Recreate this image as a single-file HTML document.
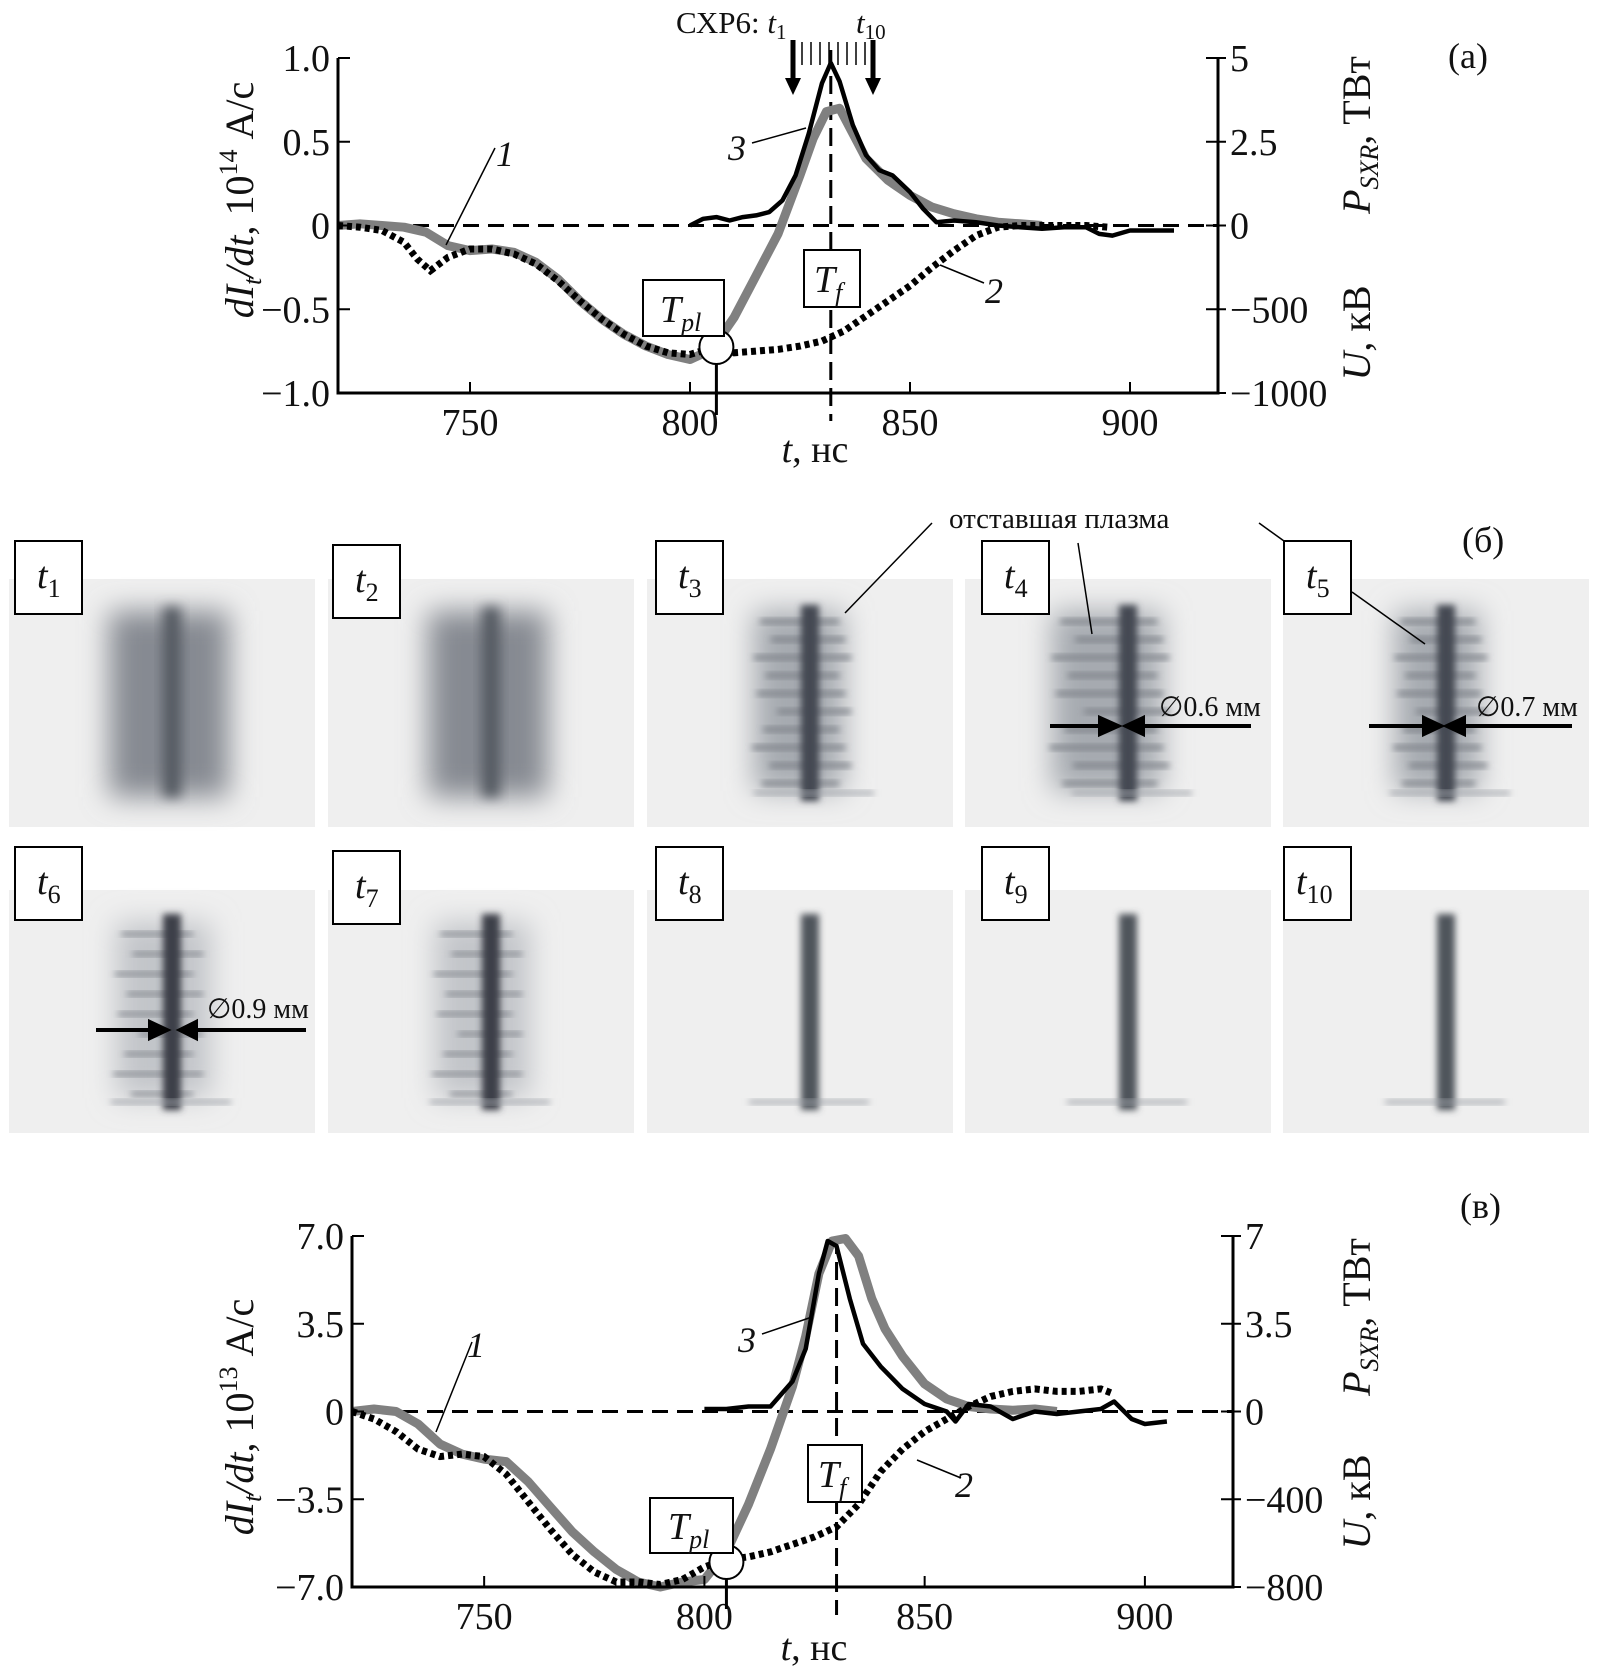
<!DOCTYPE html>
<html><head><meta charset="utf-8"><style>
html,body{margin:0;padding:0;background:#fff}
svg{display:block}
text{font-family:"Liberation Serif",serif;fill:#111}
</style></head><body>
<svg id="fig" width="1597" height="1668" viewBox="0 0 1597 1668" xmlns="http://www.w3.org/2000/svg">
<defs>
<filter id="b6" x="-50%" y="-50%" width="200%" height="200%"><feGaussianBlur stdDeviation="6"/></filter>
<filter id="b3" x="-50%" y="-50%" width="200%" height="200%"><feGaussianBlur stdDeviation="3.5"/></filter>
<filter id="b12" x="-50%" y="-50%" width="200%" height="200%"><feGaussianBlur stdDeviation="14"/></filter>
</defs>
<g id="panels"></g>
<g id="chartA"></g>
<g id="chartB"></g>
<g id="annot"></g>
</svg>
<script>
// ---------- chart (a) data ----------
const tA1=[720,725,730,735,740,745,750,755,760,765,770,775,780,785,790,795,800,805,810,815,820,825,828,831,834,837,840,845,850,855,860,865,870,875,880];
const vA1=[0,0.01,0,-0.01,-0.04,-0.12,-0.15,-0.14,-0.16,-0.22,-0.32,-0.45,-0.56,-0.65,-0.72,-0.77,-0.8,-0.74,-0.55,-0.3,-0.05,0.3,0.52,0.68,0.7,0.55,0.4,0.27,0.18,0.11,0.07,0.04,0.02,0.01,0];
const tA2=[720,725,730,735,738,741,745,750,755,760,765,770,775,780,785,790,795,800,805,810,815,820,825,830,835,840,845,850,855,860,865,870,875,880,890,895];
const vA2=[0,-0.01,-0.03,-0.1,-0.2,-0.27,-0.19,-0.14,-0.14,-0.17,-0.23,-0.33,-0.45,-0.56,-0.65,-0.72,-0.76,-0.77,-0.73,-0.76,-0.75,-0.74,-0.72,-0.69,-0.63,-0.54,-0.45,-0.36,-0.25,-0.15,-0.06,-0.01,0,0,0,-0.01];
const tA3=[800,803,806,809,812,815,818,821,824,827,830,832,834,837,840,843,846,850,853,856,860,865,870,875,880,885,890,893,896,900,905,910];
const vA3=[0,0.04,0.05,0.03,0.05,0.06,0.08,0.15,0.3,0.55,0.85,0.97,0.86,0.6,0.42,0.33,0.3,0.2,0.1,0.02,0.03,0.02,0,-0.01,-0.02,-0.01,-0.01,-0.05,-0.06,-0.03,-0.03,-0.03];
const ticksXA=[750,800,850,900];
const ticksYA=[1,0.5,0,-0.5,-1];
const labelsLeftA=["1.0","0.5","0","\u22120.5","\u22121.0"];
const labelsRightA=["5","2.5","0","\u2212500","\u22121000"];
// ---------- chart (v) data ----------
const tB1=[720,725,730,735,740,745,750,755,760,765,770,775,780,785,790,795,800,805,810,815,820,823,826,829,832,835,838,841,845,850,855,860,865,870,875,880];
const vB1=[0,0.1,0,-0.5,-1.3,-1.7,-1.9,-2.0,-2.8,-3.8,-4.8,-5.6,-6.3,-6.8,-7.0,-6.8,-6.7,-5.6,-3.7,-1.5,1.0,3.0,5.5,6.8,6.9,6.2,4.5,3.3,2.2,1.1,0.5,0.2,0.1,0.05,0.1,0];
const tB2=[720,725,730,735,740,745,750,755,760,765,770,775,780,785,790,795,800,805,810,815,820,825,830,835,840,845,850,855,860,865,870,875,880,885,890,893];
const vB2=[0,-0.3,-0.8,-1.5,-1.8,-1.7,-1.8,-2.5,-3.6,-4.7,-5.7,-6.4,-6.8,-6.8,-6.9,-6.7,-6.2,-5.9,-5.8,-5.6,-5.3,-5.0,-4.6,-3.7,-2.4,-1.5,-0.8,-0.3,0.2,0.6,0.8,0.9,0.8,0.8,0.9,0.7];
const tB3=[800,805,810,815,820,823,826,828,830,833,836,840,845,850,855,857,860,865,870,875,880,885,890,893,897,900,905];
const vB3=[0.1,0.1,0.2,0.2,1.2,2.5,5.5,6.8,6.6,4.5,2.7,1.8,0.9,0.3,0.0,-0.4,0.3,0.2,-0.3,0.0,-0.1,0.0,0.1,0.4,-0.3,-0.5,-0.4];
const ticksXB=[750,800,850,900];
const ticksYB=[7,3.5,0,-3.5,-7];
const labelsLeftB=["7.0","3.5","0","\u22123.5","\u22127.0"];
const labelsRightB=["7","3.5","0","\u2212400","\u2212800"];

const NS="http://www.w3.org/2000/svg";
function mk(tag,attrs,parent){const e=document.createElementNS(NS,tag);for(const k in attrs)e.setAttribute(k,attrs[k]);parent.appendChild(e);return e;}

function drawChart(g,c){
  const xs=t=>c.x0+(t-720)/(200)*(c.x1-c.x0);
  const ys=v=>c.y0+(c.vmax-v)/(2*c.vmax)*(c.y1-c.y0);
  const y0=ys(0);
  let z=mk('line',{x1:c.x0,x2:c.x1,y1:y0,y2:y0,stroke:'#000','stroke-width':3,'stroke-dasharray':'16 9'},g);
  
  
  let tf=mk('line',{x1:xs(c.tf),x2:xs(c.tf),y1:c.tfTop,y2:c.y1+28,stroke:'#000','stroke-width':3,'stroke-dasharray':'18 8'},g);
  
  
  const path=(ts,vs)=>ts.map((t,i)=>(i?'L':'M')+xs(t).toFixed(1)+','+ys(vs[i]).toFixed(1)).join(' ');
  let s1=mk('path',{d:path(c.t1,c.v1),fill:'none',stroke:'#808080','stroke-width':9,'stroke-linejoin':'round'},g);
  
  
  let s2=mk('path',{d:path(c.t2,c.v2),fill:'none',stroke:'#000','stroke-width':7,'stroke-dasharray':'5 4'},g);
  
  
  let s3=mk('path',{d:path(c.t3,c.v3),fill:'none',stroke:'#000','stroke-width':4.5,'stroke-linejoin':'round'},g);
  
  
  let ax=mk('path',{d:`M${c.x0},${c.y0} L${c.x0},${c.y1} L${c.x1},${c.y1} L${c.x1},${c.y0}`,fill:'none',stroke:'#000','stroke-width':3},g);
  
  
  c.ticksX.forEach(t=>{
    let l=mk('line',{x1:xs(t),x2:xs(t),y1:c.y1,y2:c.y1-11,stroke:'#000','stroke-width':2},g);
    
    
    let tx=mk('text',{x:xs(t),y:c.y1+42,'text-anchor':'middle','font-size':38},g);
    tx.textContent=t;
    
    
  });
  c.ticksY.forEach((v,i)=>{
    let l=mk('line',{x1:c.x0,x2:c.x0+12,y1:ys(v),y2:ys(v),stroke:'#000','stroke-width':2},g);
    
    
    let r=mk('line',{x1:c.x1-12,x2:c.x1+8,y1:ys(v),y2:ys(v),stroke:'#000','stroke-width':2},g);
    
    
    let tl=mk('text',{x:c.x0-8,y:ys(v)+13,'text-anchor':'end','font-size':38},g);
    tl.textContent=c.labL[i];
    
    
    let tr=mk('text',{x:c.x1+12,y:ys(v)+13,'text-anchor':'start','font-size':38},g);
    tr.textContent=c.labR[i];
    
    
  });
  let vl=mk('line',{x1:xs(c.tpl),x2:xs(c.tpl),y1:c.tplY,y2:c.y1+22,stroke:'#000','stroke-width':3},g);
  
  
  let ci=mk('circle',{cx:xs(c.tpl),cy:c.tplY,r:17,fill:'#fff',stroke:'#000','stroke-width':2},g);
  
  
}

drawChart(document.getElementById('chartA'),{x0:338,x1:1218,y0:58,y1:393,vmax:1,tf:832,tfTop:50,tpl:806,tplY:347,
  t1:tA1,v1:vA1,t2:tA2,v2:vA2,t3:tA3,v3:vA3,ticksX:ticksXA,ticksY:ticksYA,labL:labelsLeftA,labR:labelsRightA});
drawChart(document.getElementById('chartB'),{x0:352,x1:1233,y0:1236,y1:1587,vmax:7,tf:830,tfTop:1236,tpl:805,tplY:1562,
  t1:tB1,v1:vB1,t2:tB2,v2:vB2,t3:tB3,v3:vB3,ticksX:ticksXB,ticksY:ticksYB,labL:labelsLeftB,labR:labelsRightB});

// ---------- framing image panels ----------
const panelsG=document.getElementById('panels');
const colX=[9,328,647,965,1283];
const rowY=[579,890];
const streakLen=[62,48,70,55,66,40,58,72,50,60];
function panel(i){
  const row=i<5?0:1, col=i%5;
  const px=colX[col], py=rowY[row], w=306, h=i<5?248:243;
  const g=mk('g',{transform:`translate(${px},${py})`},panelsG);
  
  
  mk('rect',{x:0,y:0,width:w,height:h,fill:'#efefef'},g);
  const cx=162;
  if(i<2){
    mk('rect',{x:cx-62,y:32,width:120,height:186,fill:'#868a92',filter:'url(#b12)'},g);
    mk('rect',{x:cx-8,y:28,width:18,height:190,fill:'#555a62',filter:'url(#b6)'},g);
  } else if(i<5){
    const hw=[0,0,55,75,50][i];
    mk('rect',{x:cx-hw,y:32,width:hw+35,height:180,fill:'#a6aab0',filter:'url(#b12)'},g);
    for(let k=0;k<10;k++){const L=streakLen[k]*hw/70;mk('rect',{x:cx-L,y:40+k*18,width:L+30+(k%3)*6,height:5,fill:'#7d8188',filter:'url(#b3)'},g);}
    mk('rect',{x:cx-8,y:26,width:18,height:196,fill:'#454a52',filter:'url(#b3)'},g);
    mk('rect',{x:cx-55,y:212,width:120,height:4,fill:'#a0a4aa',filter:'url(#b3)'},g);
  } else {
    const feather=i<7;
    if(feather){
      mk('rect',{x:cx-55,y:32,width:95,height:176,fill:'#c2c5c9',filter:'url(#b12)'},g);
      for(let k=0;k<9;k++){const L=streakLen[k]*0.8;mk('rect',{x:cx-L,y:42+k*20,width:L+22+(k%2)*10,height:4,fill:'#7d8188',filter:'url(#b3)'},g);}
    }
    mk('rect',{x:cx-8,y:24,width:18,height:196,fill:feather?'#3c4148':'#50555c',filter:'url(#b3)'},g);
    mk('rect',{x:cx-60,y:210,width:120,height:4,fill:'#a0a4aa',filter:'url(#b3)'},g);
  }
}
for(let i=0;i<10;i++)panel(i);
const boxes=[[15,541],[333,545],[656,541],[982,541],[1284,541],[15,847],[333,851],[656,847],[982,847],[1284,847]];
boxes.forEach((b,i)=>{
  const r=mk('rect',{x:b[0],y:b[1],width:67,height:73,fill:'#fff',stroke:'#000','stroke-width':2},panelsG);
  
  
  const t=mk('text',{x:b[0]+(i==9?12:22),y:b[1]+47,'font-size':38},panelsG);
  t.innerHTML='<tspan font-style="italic">t</tspan><tspan font-size="26" dy="9">'+(i+1)+'</tspan>';
  
  
});
</script>
<script>
const an=document.getElementById('annot');
an.innerHTML=`
<g>
<text x="1448" y="68" font-size="36">(a)</text>
<text x="676" y="33" font-size="31">СХР6: <tspan font-style="italic">t</tspan><tspan font-size="21" dy="6">1</tspan></text>
<text x="856" y="33" font-size="31"><tspan font-style="italic">t</tspan><tspan font-size="21" dy="6">10</tspan></text>
<line x1="793" y1="40" x2="793" y2="82" stroke="#000" stroke-width="5"/>
<path d="M785,78 L801,78 L793,95 z" fill="#000"/>
<line x1="873" y1="40" x2="873" y2="82" stroke="#000" stroke-width="5"/>
<path d="M865,78 L881,78 L873,95 z" fill="#000"/>
<path d="M802,42V65M811,42V65M820,42V65M829,42V65M838,42V65M847,42V65M856,42V65M865,42V65" stroke="#000" stroke-width="1.5"/>
<rect x="643" y="280" width="81" height="56" fill="#fff" stroke="#000" stroke-width="2"/>
<text x="660" y="322" font-size="38" font-style="italic">T<tspan font-size="26" dy="9">pl</tspan></text>
<rect x="804" y="250" width="56" height="57" fill="#fff" stroke="#000" stroke-width="2"/>
<text x="814" y="292" font-size="38" font-style="italic">T<tspan font-size="26" dy="9">f</tspan></text>
<text x="496" y="166" font-size="36" font-style="italic">1</text>
<line x1="495" y1="148" x2="446" y2="245" stroke="#000" stroke-width="1.5"/>
<text x="728" y="160" font-size="36" font-style="italic">3</text>
<line x1="752" y1="143" x2="806" y2="128" stroke="#000" stroke-width="1.5"/>
<text x="985" y="303" font-size="36" font-style="italic">2</text>
<line x1="984" y1="283" x2="940" y2="265" stroke="#000" stroke-width="1.5"/>
<text transform="translate(253,200) rotate(-90)" text-anchor="middle" font-size="40"><tspan font-style="italic">dI</tspan><tspan font-size="26" dy="8" font-style="italic">t</tspan><tspan dy="-8" font-style="italic">/dt</tspan>, 10<tspan font-size="26" dy="-16">14</tspan><tspan dy="16"> А/с</tspan></text>
<text transform="translate(1370,135) rotate(-90)" text-anchor="middle" font-size="40"><tspan font-style="italic">P</tspan><tspan font-size="26" dy="8" font-style="italic">SXR</tspan><tspan dy="-8">, ТВт</tspan></text>
<text transform="translate(1370,333) rotate(-90)" text-anchor="middle" font-size="40"><tspan font-style="italic">U</tspan>, кВ</text>
<text x="815" y="462" text-anchor="middle" font-size="38"><tspan font-style="italic">t</tspan>, нс</text>
</g>
<g>
<text x="1462" y="552" font-size="36">(б)</text>
<text x="949" y="528" font-size="29">отставшая плазма</text>
<line x1="932" y1="523" x2="845" y2="613" stroke="#000" stroke-width="1.5"/>
<line x1="1078" y1="543" x2="1092" y2="634" stroke="#000" stroke-width="1.5"/>
<line x1="1259" y1="523" x2="1284" y2="541" stroke="#000" stroke-width="1.5"/>
<line x1="1352" y1="592" x2="1425" y2="644" stroke="#000" stroke-width="1.5"/>
<g stroke="#000" stroke-width="4">
<line x1="1050" y1="726" x2="1104" y2="726"/><path d="M1100,718 L1118,726 L1100,734 z" fill="#000"/>
<line x1="1251" y1="726" x2="1140" y2="726"/><path d="M1143,718 L1126,726 L1143,734 z" fill="#000"/>
<line x1="1369" y1="726" x2="1427" y2="726"/><path d="M1424,718 L1441,726 L1424,734 z" fill="#000"/>
<line x1="1572" y1="726" x2="1462" y2="726"/><path d="M1464,718 L1447,726 L1464,734 z" fill="#000"/>
<line x1="96" y1="1030" x2="154" y2="1030"/><path d="M150,1022 L167,1030 L150,1038 z" fill="#000"/>
<line x1="306" y1="1030" x2="193" y2="1030"/><path d="M196,1022 L180,1030 L196,1038 z" fill="#000"/>
</g>
<text x="1159" y="716" font-size="28">∅0.6 мм</text>
<text x="1476" y="716" font-size="28">∅0.7 мм</text>
<text x="207" y="1018" font-size="28">∅0.9 мм</text>
</g>
<g>
<text x="1460" y="1218" font-size="36">(в)</text>
<rect x="650" y="1498" width="83" height="55" fill="#fff" stroke="#000" stroke-width="2"/>
<text x="668" y="1539" font-size="38" font-style="italic">T<tspan font-size="26" dy="9">pl</tspan></text>
<rect x="808" y="1445" width="54" height="57" fill="#fff" stroke="#000" stroke-width="2"/>
<text x="818" y="1487" font-size="38" font-style="italic">T<tspan font-size="26" dy="9">f</tspan></text>
<text x="467" y="1357" font-size="36" font-style="italic">1</text>
<line x1="472" y1="1342" x2="436" y2="1432" stroke="#000" stroke-width="1.5"/>
<text x="738" y="1352" font-size="36" font-style="italic">3</text>
<line x1="762" y1="1334" x2="812" y2="1317" stroke="#000" stroke-width="1.5"/>
<text x="955" y="1497" font-size="36" font-style="italic">2</text>
<line x1="961" y1="1478" x2="917" y2="1460" stroke="#000" stroke-width="1.5"/>
<text transform="translate(253,1417) rotate(-90)" text-anchor="middle" font-size="40"><tspan font-style="italic">dI</tspan><tspan font-size="26" dy="8" font-style="italic">t</tspan><tspan dy="-8" font-style="italic">/dt</tspan>, 10<tspan font-size="26" dy="-16">13</tspan><tspan dy="16"> А/с</tspan></text>
<text transform="translate(1370,1317) rotate(-90)" text-anchor="middle" font-size="40"><tspan font-style="italic">P</tspan><tspan font-size="26" dy="8" font-style="italic">SXR</tspan><tspan dy="-8">, ТВт</tspan></text>
<text transform="translate(1370,1502) rotate(-90)" text-anchor="middle" font-size="40"><tspan font-style="italic">U</tspan>, кВ</text>
<text x="814" y="1660" text-anchor="middle" font-size="38"><tspan font-style="italic">t</tspan>, нс</text>
</g>`;
</script>
</body></html>
